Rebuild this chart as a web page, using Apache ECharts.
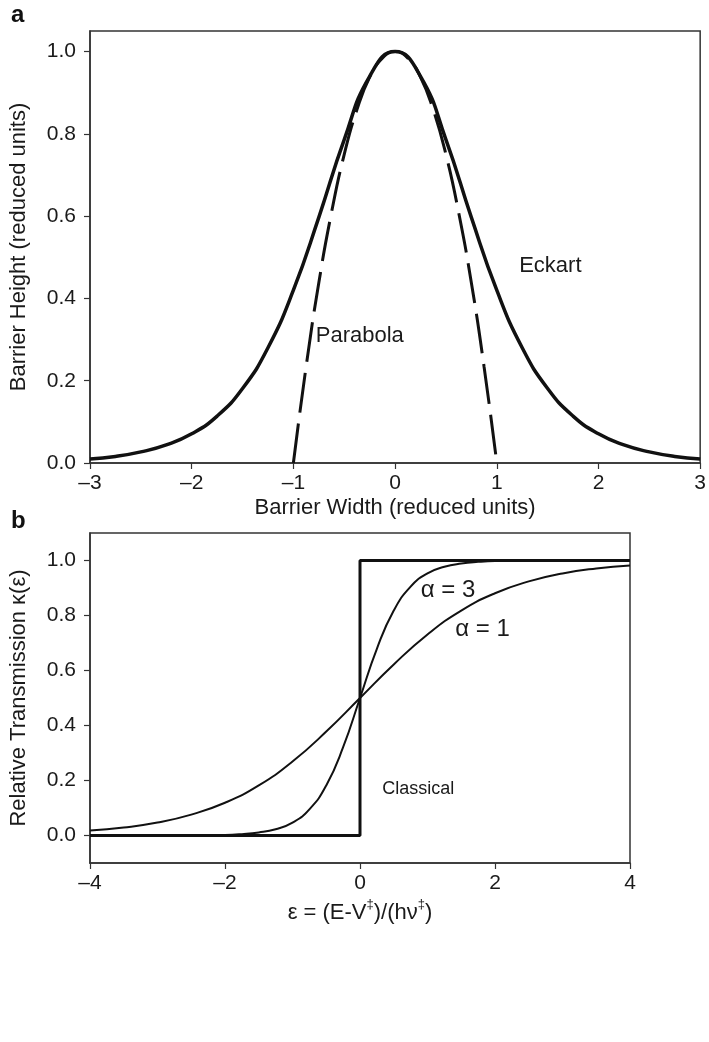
<!DOCTYPE html>
<html>
<head>
<meta charset="utf-8">
<script src="https://cdn.jsdelivr.net/npm/echarts@6/dist/echarts.min.js"></script>
<style>
html,body{margin:0;padding:0;background:#fff;}
#c{width:709px;height:1042px;}
</style>
</head>
<body>
<div id="c"></div>
<script>
// ---- Panel a: barrier shapes ----
const eckartX = [-3,-2.75,-2.5,-2.25,-2,-1.75,-1.5,-1.25,-1,-0.75,-0.5,-0.25,0,0.25,0.5,0.75,1,1.25,1.5,1.75,2,2.25,2.5,2.75,3];
const eckartY = [0.010,0.016,0.027,0.044,0.071,0.114,0.181,0.280,0.420,0.597,0.786,0.940,1.000,0.940,0.786,0.597,0.420,0.280,0.181,0.114,0.071,0.044,0.027,0.016,0.010];
const parabolaX = [-1,-0.875,-0.75,-0.625,-0.5,-0.375,-0.25,-0.125,0,0.125,0.25,0.375,0.5,0.625,0.75,0.875,1];
const parabolaY = [0,0.234,0.438,0.609,0.750,0.859,0.938,0.984,1,0.984,0.938,0.859,0.750,0.609,0.438,0.234,0];
const yTicksA = [0,0.2,0.4,0.6,0.8,1.0];

// ---- Panel b: transmission ----
const alpha1X = [-4,-3.5,-3,-2.5,-2,-1.5,-1,-0.5,0,0.5,1,1.5,2,2.5,3,3.5,4];
const alpha1Y = [0.018,0.029,0.047,0.076,0.119,0.182,0.269,0.378,0.5,0.622,0.731,0.818,0.881,0.924,0.953,0.971,0.982];
const alpha3X = [-4,-3,-2.5,-2,-1.75,-1.5,-1.25,-1,-0.75,-0.5,-0.25,0,0.25,0.5,0.75,1,1.25,1.5,1.75,2,2.5,3,4];
const alpha3Y = [0.000,0.000,0.001,0.002,0.005,0.011,0.023,0.047,0.095,0.182,0.321,0.5,0.679,0.818,0.905,0.953,0.977,0.989,0.995,0.998,0.999,1.000,1.000];
const classicalX = [-4,0,0,4];
const classicalY = [0,0,1,1];
const yTicksB = [0,0.2,0.4,0.6,0.8,1.0];

// annotation texts with anchor positions (data units)
const labelsA = [{text:'Eckart', x:1.22, y:0.478}, {text:'Parabola', x:-0.78, y:0.31}];
const labelsB = [{text:'\u03b1 = 3', x:0.9, y:0.893}, {text:'\u03b1 = 1', x:1.41, y:0.748}];
const labelClassical = {text:'Classical', x:0.33, y:0.17};

const zip = (xs, ys) => xs.map((x, i) => [x, ys[i]]);
const FONT = "'Liberation Sans', Arial, sans-serif";
const AX = '#333';
const TXT = '#1a1a1a';
const fmtX = v => v < 0 ? '\u2013' + Math.abs(v) : String(v);

function annot(list, xi, yi, size) {
  return {
    type: 'scatter', xAxisIndex: xi, yAxisIndex: yi, symbolSize: 0, silent: true,
    itemStyle: {opacity: 1},
    data: list.map(l => ({value: [l.x, l.y], name: l.text})),
    label: {show: true, position: 'right', distance: 0, formatter: p => p.name,
            color: TXT, opacity: 1, fontSize: size, fontFamily: FONT}
  };
}

const chart = echarts.init(document.getElementById('c'), null, {renderer: 'canvas'});
chart.setOption({
  animation: false,
  backgroundColor: '#fff',
  title: [
    {text: 'a', left: 11, top: 3, padding: 0, textStyle: {fontSize: 24, fontWeight: 'bold', fontFamily: FONT, color: '#111'}},
    {text: 'b', left: 11, top: 509, padding: 0, textStyle: {fontSize: 24, fontWeight: 'bold', fontFamily: FONT, color: '#111'}}
  ],
  grid: [
    {left: 86, right: 3, top: 31, height: 432, show: true, borderColor: AX, borderWidth: 1.5, backgroundColor: 'transparent'},
    {left: 86, width: 544, top: 533, height: 330, show: true, borderColor: AX, borderWidth: 1.5, backgroundColor: 'transparent'}
  ],
  xAxis: [
    {type: 'value', gridIndex: 0, min: -3, max: 3, interval: 1,
     name: 'Barrier Width (reduced units)', nameLocation: 'middle', nameGap: 34,
     nameTextStyle: {fontSize: 22, fontFamily: FONT, color: TXT},
     axisLine: {onZero: false, lineStyle: {color: AX, width: 1.5}},
     axisTick: {length: 6, lineStyle: {color: AX, width: 1.2}},
     axisLabel: {formatter: fmtX, fontSize: 21, fontFamily: FONT, color: TXT, margin: 10},
     splitLine: {show: false}},
    {type: 'value', gridIndex: 1, min: -4, max: 4, interval: 2,
     name: '{n|\u03b5 = (E-V}{s|\u2021}{n|)/(h\u03bd}{s|\u2021}{n|)}', nameLocation: 'middle', nameGap: 35,
     nameTextStyle: {fontSize: 22, fontFamily: FONT, color: TXT,
       rich: {n: {fontSize: 22, fontFamily: FONT, color: TXT, lineHeight: 26, verticalAlign: 'bottom'},
              s: {fontSize: 13, fontFamily: FONT, color: TXT, lineHeight: 26, verticalAlign: 'top', padding: [0,0,8,0]}}},
     axisLine: {onZero: false, lineStyle: {color: AX, width: 1.5}},
     axisTick: {length: 6, lineStyle: {color: AX, width: 1.2}},
     axisLabel: {formatter: fmtX, fontSize: 21, fontFamily: FONT, color: TXT, margin: 10},
     splitLine: {show: false}},
  ],
  yAxis: [
    {type: 'value', gridIndex: 0, min: 0, max: 1.05,
     name: 'Barrier Height (reduced units)', nameLocation: 'middle', nameGap: 60,
     nameTextStyle: {fontSize: 22, fontFamily: FONT, color: TXT},
     axisLine: {onZero: false, lineStyle: {color: AX, width: 1.5}},
     axisTick: {length: 6, customValues: yTicksA, lineStyle: {color: AX, width: 1.2}},
     axisLabel: {customValues: yTicksA, formatter: v => v.toFixed(1), fontSize: 21, fontFamily: FONT, color: TXT, margin: 14},
     splitLine: {show: false}},
    {type: 'value', gridIndex: 1, min: -0.1, max: 1.1,
     name: 'Relative Transmission \u03ba(\u03b5)', nameLocation: 'middle', nameGap: 60,
     nameTextStyle: {fontSize: 22, fontFamily: FONT, color: TXT},
     axisLine: {onZero: false, lineStyle: {color: AX, width: 1.5}},
     axisTick: {length: 6, customValues: yTicksB, lineStyle: {color: AX, width: 1.2}},
     axisLabel: {customValues: yTicksB, formatter: v => v.toFixed(1), fontSize: 21, fontFamily: FONT, color: TXT, margin: 14},
     splitLine: {show: false}}
  ],
  series: [
    {type: 'line', name: 'Eckart', xAxisIndex: 0, yAxisIndex: 0, data: zip(eckartX, eckartY),
     smooth: true, showSymbol: false, lineStyle: {color: '#111', width: 3.5}},
    {type: 'line', name: 'Parabola', xAxisIndex: 0, yAxisIndex: 0, data: zip(parabolaX, parabolaY),
     smooth: true, showSymbol: false, lineStyle: {color: '#111', width: 3, type: [40, 11]}},
    annot(labelsA, 0, 0, 22),
    {type: 'line', name: 'alpha1', xAxisIndex: 1, yAxisIndex: 1, data: zip(alpha1X, alpha1Y),
     smooth: true, showSymbol: false, lineStyle: {color: '#111', width: 2}},
    {type: 'line', name: 'alpha3', xAxisIndex: 1, yAxisIndex: 1, data: zip(alpha3X, alpha3Y),
     smooth: true, showSymbol: false, lineStyle: {color: '#111', width: 2}},
    {type: 'line', name: 'Classical', xAxisIndex: 1, yAxisIndex: 1, data: zip(classicalX, classicalY),
     showSymbol: false, lineStyle: {color: '#111', width: 3}},
    annot(labelsB, 1, 1, 24),
    annot([labelClassical], 1, 1, 18)
  ]
});
</script>
</body>
</html>
